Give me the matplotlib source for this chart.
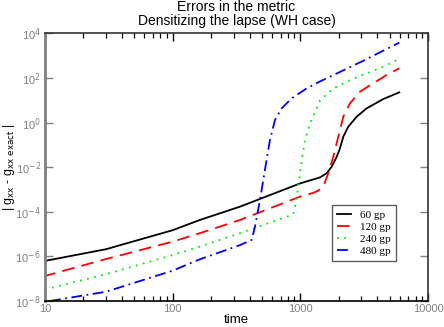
import numpy as np
import matplotlib
matplotlib.use("Agg")
import matplotlib.pyplot as plt
from matplotlib.ticker import LogLocator, FixedLocator, NullLocator, FuncFormatter

# Values (time, error)
t_60 = [10, 10.3, 30, 100, 163, 336, 1000, 1426, 1609, 1760, 1927, 2045, 2170, 2375,
        2763, 3310, 4466, 5960]
e_60 = [4.9e-7, 6.5e-7, 2.1e-6, 1.5e-5, 4.3e-5, 1.7e-4, 1.9e-3, 3.5e-3, 5.4e-3, 1.05e-2,
        2.95e-2, 7.1e-2, 0.234, 0.66, 1.86, 4.4, 11.5, 22.9]

t_120 = [10, 10.3, 30, 100, 163, 336, 993, 1264, 1380, 1513, 1656, 1812, 1983, 2170,
         2449, 2933, 3728, 4747, 5960]
e_120 = [1.0e-7, 1.4e-7, 7.6e-7, 4.6e-6, 1.1e-5, 4.3e-5, 4.8e-4, 7.1e-4, 8.9e-4, 1.35e-3,
         5.4e-3, 2.95e-2, 0.234, 1.86, 7.4, 24.5, 59, 138, 275]

t_240 = [10, 30, 100, 163, 336, 830, 881, 909, 964, 1025, 1088, 1190, 1343, 1426, 1812,
         2449, 3310, 4466, 5960]
e_240 = [3.3e-8, 1.6e-7, 1.15e-6, 2.75e-6, 1.1e-5, 6.8e-5, 7.9e-5, 1.7e-4, 1.35e-3,
         2.1e-2, 0.166, 0.93, 4.5, 10, 34.7, 81, 162, 324, 724]

t_480 = [10.94, 30, 100, 163, 336, 416, 441, 483, 528, 578, 633, 714, 855, 1122, 1426,
         1708, 3112, 5960]
e_480 = [1.0e-8, 2.6e-8, 2.3e-7, 7.4e-7, 3.2e-6, 5.5e-6, 2.1e-5, 3.4e-4, 7.6e-3, 0.166,
         1.32, 4.4, 12.3, 34.7, 71, 115, 600, 3900]

labels = ["60 gp", "120 gp", "240 gp", "480 gp"]

fig = plt.figure(figsize=(4.44, 3.27), dpi=100)
ax = fig.add_axes([45 / 444, 26 / 327, 383 / 444, 267.5 / 327])

ax.plot(t_60, e_60, color="black", lw=1.3, label=labels[0])
ax.plot(t_120, e_120, color="red", lw=1.3, dashes=(7, 4), label=labels[1])
ax.plot(t_240, e_240, color="#00ee00", lw=1.3, dashes=(1, 3), label=labels[2])
ax.plot(t_480, e_480, color="blue", lw=1.3, dashes=(6, 2.5, 1, 2.5), label=labels[3])

ax.set_xscale("log")
ax.set_yscale("log")
ax.set_xlim(10, 10000)
ax.set_ylim(1e-8, 1e4)

gray = "#808080"

ax.xaxis.set_major_locator(FixedLocator([10, 100, 1000, 10000]))
ax.xaxis.set_minor_locator(LogLocator(base=10, subs=np.arange(2, 10)))
ax.xaxis.set_major_formatter(FuncFormatter(lambda v, p: "%d" % v))
ax.yaxis.set_major_locator(FixedLocator([10.0 ** k for k in range(-8, 5, 2)]))
ax.yaxis.set_minor_locator(NullLocator())
ax.yaxis.set_major_formatter(FuncFormatter(lambda v, p: r"10$^{%d}$" % round(np.log10(v))))

ax.tick_params(axis="both", which="both", direction="in", top=True, right=True,
               labelcolor=gray)
ax.tick_params(axis="both", which="major", length=6, width=1)
ax.tick_params(axis="x", which="minor", length=3.5, width=0.9)
ax.tick_params(axis="x", pad=2)
ax.tick_params(axis="y", pad=3)
ax.tick_params(axis="y", which="major", colors=gray, labelcolor=gray)
for lab in ax.get_xticklabels() + ax.get_yticklabels():
    lab.set_fontfamily("Liberation Sans")
    lab.set_fontsize(8)

for side in ["top", "right"]:
    ax.spines[side].set_color("#333333")
    ax.spines[side].set_linewidth(1.2)
ax.spines["bottom"].set_color("black")
ax.spines["bottom"].set_linewidth(1.2)
ax.spines["left"].set_color(gray)
ax.spines["left"].set_linewidth(2)

ax.set_title("Errors in the metric\nDensitizing the lapse (WH case)",
             family="Liberation Sans", fontsize=10, linespacing=1.0, pad=6)
ax.set_xlabel("time", family="Liberation Sans", fontsize=9.5)
ax.xaxis.set_label_coords(0.5, -0.048)
ax.set_ylabel(r"| g$_{\rm xx}$ - g$_{\rm xx\ exact}$ |", family="Liberation Sans",
              fontsize=9)
ax.yaxis.set_label_coords(-0.094, 0.5)
ax.yaxis.label.set_verticalalignment("center")

leg = ax.legend(loc="upper left", bbox_to_anchor=(287 / 383, 1 - 171.5 / 267.5),
                prop={"family": "Liberation Serif", "size": 8}, frameon=True,
                fancybox=False, edgecolor="#333333", handlelength=1.3,
                handletextpad=0.8, borderpad=0.45, labelspacing=0.2,
                borderaxespad=0)
leg.get_frame().set_linewidth(1.0)

fig.savefig("out.png", dpi=100)
